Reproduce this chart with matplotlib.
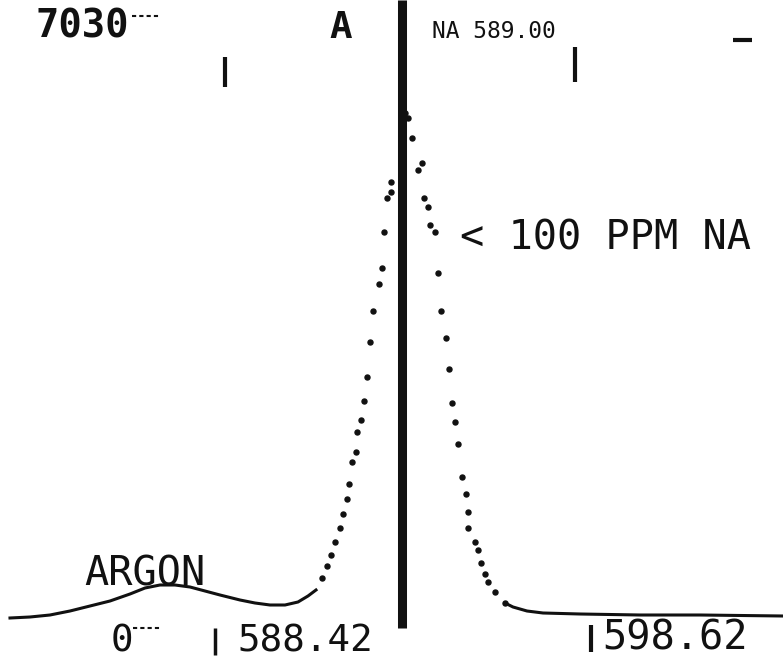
import numpy as np
import matplotlib
matplotlib.use("Agg")
from matplotlib import pyplot as plt

# scan position (plotter units) and intensity above baseline
line_left_x = [10, 30, 50, 70, 90, 110, 130, 145, 160, 175, 190, 205, 220, 240,
               255, 270, 285, 298, 308, 316]
line_left_y = [-3, -2, 0, 4, 9, 14, 21, 27, 30, 30, 28, 24, 20, 15,
               12, 10, 10, 13, 19, 25]

dots_x = [322, 327, 331, 335, 340, 343, 347, 349, 352, 356, 357, 361, 364, 367,
          370, 373, 379, 382, 384, 387, 391, 391, 405, 408, 412, 418, 422, 424,
          428, 430, 435, 438, 441, 446, 449, 452, 455, 458, 462, 466, 468, 468,
          475, 478, 481, 485, 488, 495, 505]
dots_y = [37, 49, 60, 73, 87, 101, 116, 131, 153, 163, 183, 195, 214, 238,
          273, 304, 331, 347, 383, 417, 423, 433, 502, 497, 477, 445, 452, 417,
          408, 390, 383, 342, 304, 277, 246, 212, 193, 171, 138, 121, 103, 87,
          73, 65, 52, 41, 33, 23, 12]

line_right_x = [505, 513, 527, 543, 580, 640, 700, 783]
line_right_y = [12, 8, 4, 2, 1, 0, 0, -1]

center_pos = 402        # NA 589.00 line
marks_top = [225, 575]
marks_bottom = [215, 591]

ink = "#111111"
mono = "DejaVu Sans Mono"

fig = plt.figure(figsize=(7.83, 6.61), dpi=100)
ax = fig.add_axes([0, 0, 1, 1])
ax.set_xlim(0, 783)
ax.set_ylim(-46, 615)
ax.axis("off")

# spectrum trace
ax.plot(line_left_x, line_left_y, color=ink, lw=2.2)
ax.plot(dots_x, dots_y, ls="none", marker="o", ms=3.6, color=ink)
ax.plot(line_right_x, line_right_y, color=ink, lw=2.2)

# heavy cursor line at the sodium line
ax.vlines(center_pos, -13, 615, color=ink, lw=6.5)

# small tick marks
ax.vlines(marks_top[0], 615 - 87, 615 - 57, color=ink, lw=3)
ax.vlines(marks_top[1], 615 - 82, 615 - 47, color=ink, lw=3)
ax.vlines(marks_bottom[0], 615 - 655, 615 - 628, color=ink, lw=2.5)
ax.vlines(marks_bottom[1], 615 - 652, 615 - 625, color=ink, lw=3)
ax.hlines(615 - 40, 733, 752, color=ink, lw=3)
ax.hlines(615 - 16, 132, 160, color=ink, lw=1.5, ls=(0, (2, 1.5)))
ax.hlines(615 - 628, 133, 162, color=ink, lw=1.5, ls=(0, (2, 1.5)))

# labels
ax.text(35, 615 - 38, "7030", family=mono, fontsize=28, weight="bold", color=ink)
ax.text(329, 615 - 38, "A", family=mono, fontsize=27, weight="bold", color=ink)
ax.text(432, 615 - 38, "NA 589.00", family=mono, fontsize=16.5, color=ink)
ax.text(460, 615 - 250, "< 100 PPM NA", family=mono, fontsize=29, color=ink)
ax.text(84, 615 - 585, "ARGON", family=mono, fontsize=29, color=ink)
ax.text(111, 615 - 651, "0", family=mono, fontsize=27, color=ink)
ax.text(237, 615 - 651, "588.42", family=mono, fontsize=27, color=ink)
ax.text(602, 615 - 650, "598.62", family=mono, fontsize=29, color=ink)

plt.savefig("out.png", dpi=100, facecolor="white")
